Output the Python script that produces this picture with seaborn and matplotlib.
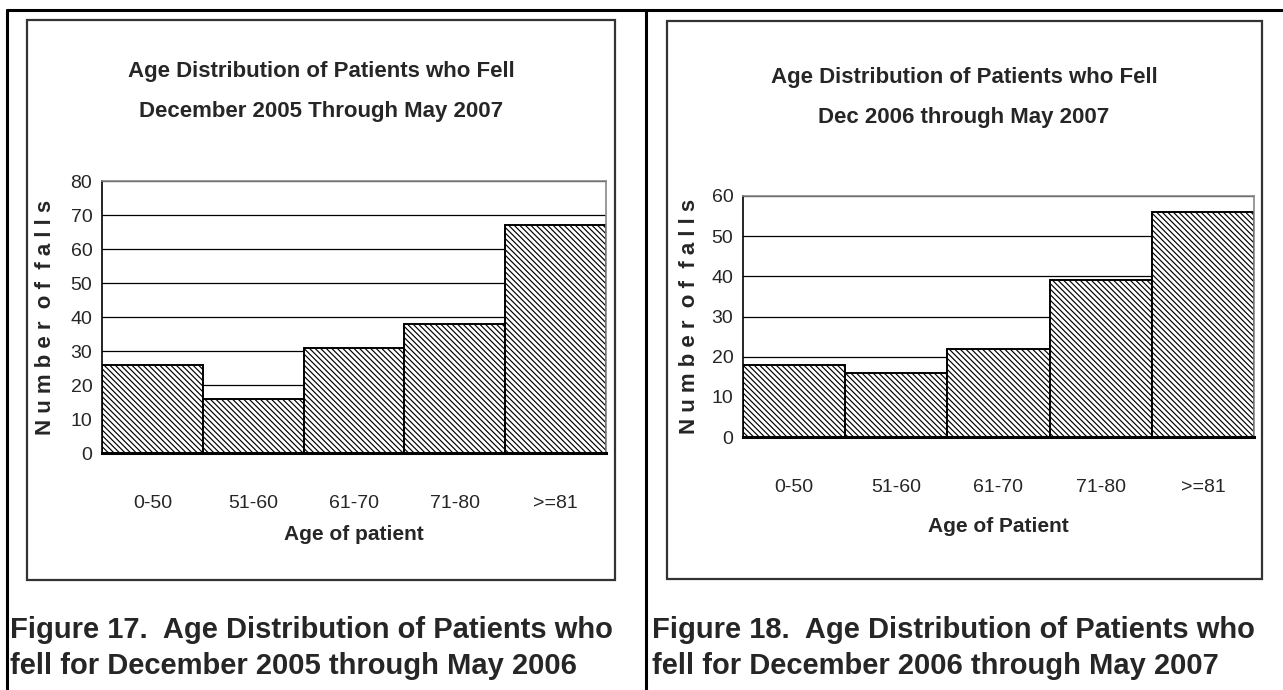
import matplotlib
matplotlib.use('Agg')
import matplotlib.pyplot as plt
from matplotlib.patches import Rectangle
from matplotlib.lines import Line2D
import pandas as pd
import seaborn as sns

age_groups = ["0-50", "51-60", "61-70", "71-80", ">=81"]
falls_dec05 = [26, 16, 31, 38, 67]
falls_dec06 = [18, 16, 22, 39, 56]

sns.set_style("white")
plt.rcParams['font.family'] = ['Liberation Sans Narrow', 'Liberation Sans', 'DejaVu Sans']
plt.rcParams['hatch.linewidth'] = 0.85
plt.rcParams['hatch.color'] = 'black'

W, H = 1283, 690
fig = plt.figure(figsize=(W / 100, H / 100), dpi=100)


def rect(x0, y0, x1, y1):
    # pixel box (top-left origin) -> figure fraction
    return [x0 / W, 1 - y1 / H, (x1 - x0) / W, (y1 - y0) / H]


def frame(x0, y0, x1, y1, **kw):
    fig.add_artist(Rectangle((x0 / W, 1 - y1 / H), (x1 - x0) / W, (y1 - y0) / H,
                             transform=fig.transFigure, fill=False, **kw))


def line(xs, ys, **kw):
    fig.add_artist(Line2D([x / W for x in xs], [1 - y / H for y in ys],
                          transform=fig.transFigure, **kw))


def panel(pos, counts, ymax, titles, title_y, xlabel, xlabel_y, cx, ylab_x):
    ax = fig.add_axes(rect(*pos))
    df = pd.DataFrame({'age': age_groups, 'falls': counts})
    sns.barplot(data=df, x='age', y='falls', ax=ax, width=1.0, color='white',
                saturation=1, edgecolor='black', linewidth=1.4, hatch='\\' * 6, zorder=3)
    ax.set_xlim(-0.5, 4.5)
    ax.set_ylim(0, ymax)
    ax.set_yticks(range(0, ymax + 1, 10))
    ax.yaxis.grid(True, color='black', linewidth=0.9)
    ax.set_axisbelow(True)
    ax.set_xticks(range(5))
    ax.set_xticklabels(age_groups)
    ax.set_xticks([i - 0.5 for i in range(6)], minor=True)
    ax.tick_params(axis='x', which='major', length=0, pad=30, labelsize=14)
    ax.tick_params(axis='x', which='minor', length=7, width=1, color='black', direction='out')
    ax.tick_params(axis='y', length=5, width=1, color='black', direction='out', labelsize=14, pad=2)
    for s in ['top', 'right']:
        ax.spines[s].set_color('#888888')
        ax.spines[s].set_linewidth(1.2)
    ax.spines['left'].set_color('black')
    ax.spines['left'].set_linewidth(1.2)
    ax.spines['bottom'].set_color('black')
    ax.spines['bottom'].set_linewidth(2.2)
    for s in ax.spines.values():
        s.set_zorder(4)
    ax.set_xlabel('')
    ax.set_ylabel("N u m b e r  o f  f a l l s", fontsize=16, fontweight='bold',
                  family=['Liberation Sans', 'DejaVu Sans'])
    ax.yaxis.set_label_coords((ylab_x - pos[0]) / (pos[2] - pos[0]), 0.5)
    for t, y in zip(titles, title_y):
        fig.text(cx / W, 1 - y / H, t, ha='center', va='center', fontsize=16, fontweight='bold')
    fig.text((pos[0] + pos[2]) / 2 / W, 1 - xlabel_y / H, xlabel, ha='center', va='center',
             fontsize=15, fontweight='bold')
    return ax


panel((102, 181, 606, 453), falls_dec05, 80,
      ["Age Distribution of Patients who Fell", "December 2005 Through May 2007"], [72, 112],
      "Age of patient", 535, 321, 56)
panel((743, 196, 1254, 437), falls_dec06, 60,
      ["Age Distribution of Patients who Fell", "Dec 2006 through May 2007"], [78, 118],
      "Age of Patient", 526, 964, 700)

# chart boxes
frame(27, 20, 615, 580, edgecolor='#333333', linewidth=1.6)
frame(667, 21, 1262, 579, edgecolor='#333333', linewidth=1.6)

# table lines
line([7, 1283], [10, 10], color='black', linewidth=2.2)
line([7, 7], [10, 690], color='black', linewidth=2.2)
line([646, 646], [10, 690], color='black', linewidth=2.2)

cap = dict(fontsize=21, fontweight='bold', family=['Liberation Sans', 'DejaVu Sans'], va='center', ha='left')
fig.text(10 / W, 1 - 630 / H, "Figure 17.  Age Distribution of Patients who", **cap)
fig.text(10 / W, 1 - 666 / H, "fell for December 2005 through May 2006", **cap)
fig.text(652 / W, 1 - 630 / H, "Figure 18.  Age Distribution of Patients who", **cap)
fig.text(652 / W, 1 - 666 / H, "fell for December 2006 through May 2007", **cap)

fig.savefig("out.png", dpi=100)
